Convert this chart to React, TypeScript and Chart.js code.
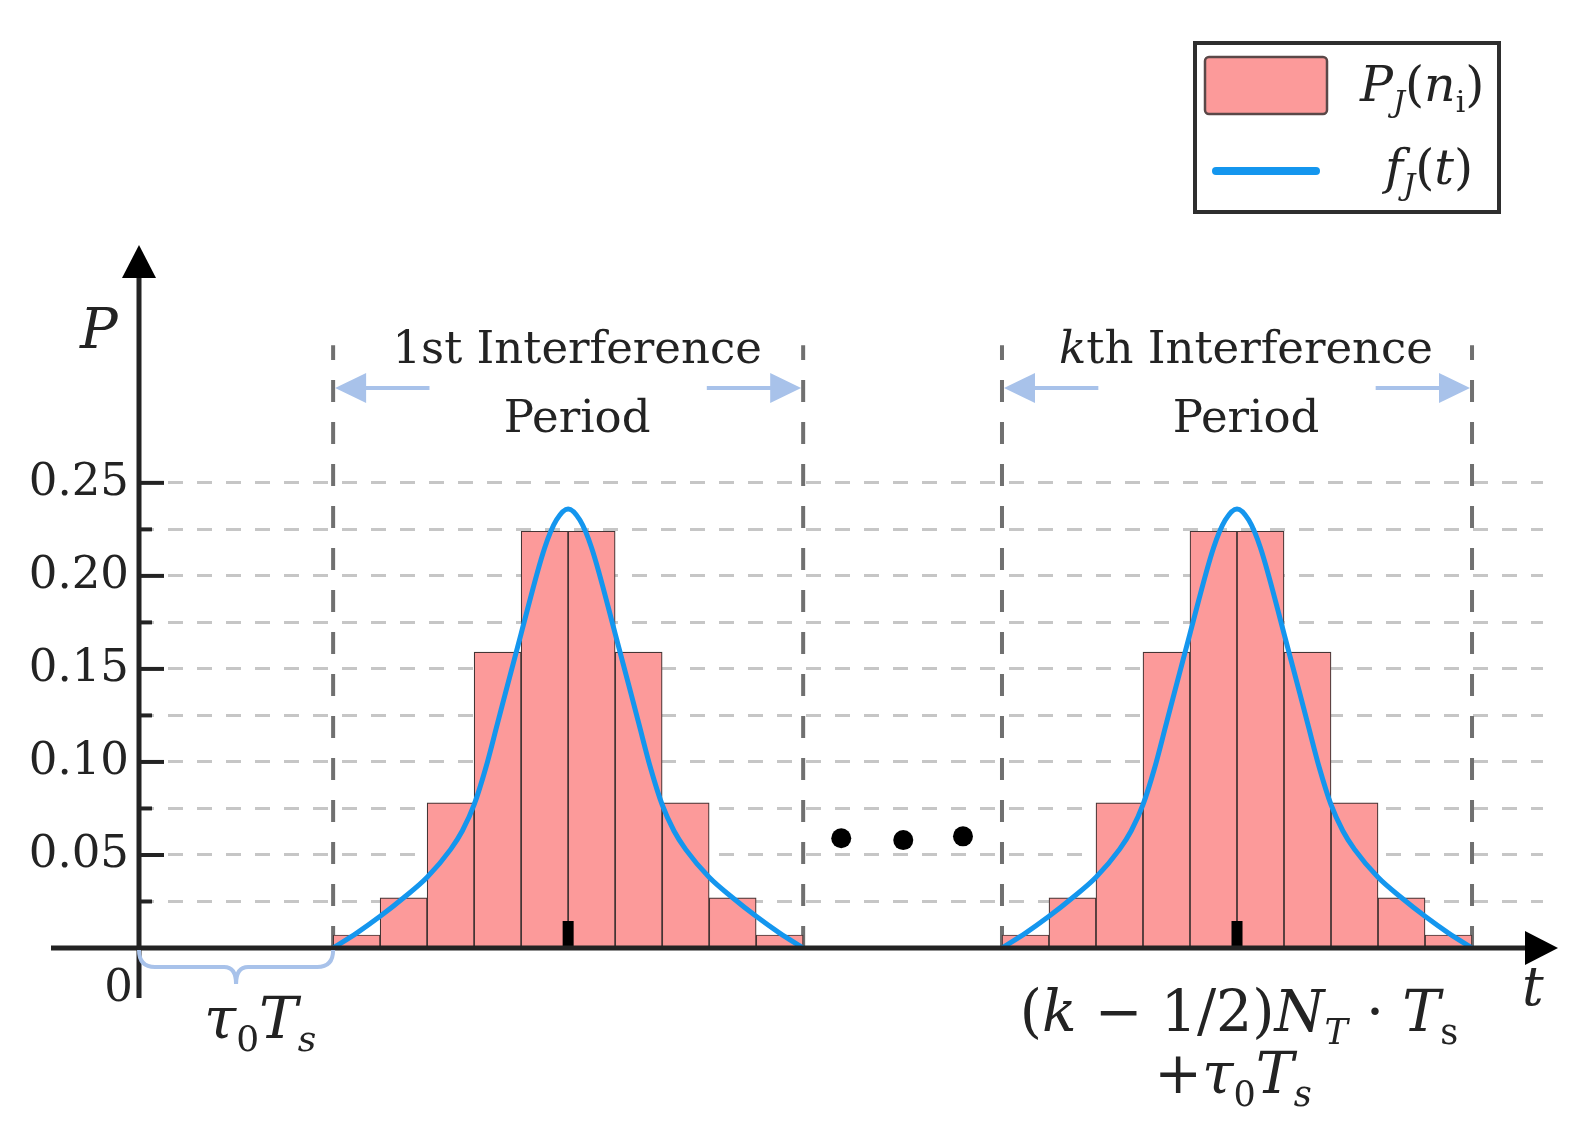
import { useEffect, useRef } from 'react'
import { Chart, ChartConfiguration, registerables } from 'chart.js'

Chart.register(...registerables)

// P_J(n_i): probability of each bin inside one interference period
const binProbs = [0.007, 0.027, 0.078, 0.159, 0.224, 0.224, 0.159, 0.078, 0.027, 0.007]
// where the 1st and the kth interference period start (units of T_s)
const periodStarts = [4.13, 18.36]
// f_J(t), as offsets from the start of a period
const curveOffsets = [0, 0.5, 1, 1.5, 2, 2.5, 2.75, 3, 3.25, 3.5, 4, 4.5, 4.75, 5, 5.25, 5.5, 6, 6.5, 6.75, 7, 7.25, 7.5, 8, 8.5, 9, 9.5, 10]
const curveValues = [0, 0.008, 0.017, 0.027, 0.038, 0.053, 0.063, 0.077, 0.097, 0.121, 0.169, 0.215, 0.23, 0.236, 0.23, 0.215, 0.169, 0.121, 0.097, 0.077, 0.063, 0.053, 0.038, 0.027, 0.017, 0.008, 0]
// the three dots between the periods
const dotTimes = [14.94, 16.26, 17.53]
const dotValues = [0.059, 0.058, 0.06]
// y axis
const yTickValues = [0.025, 0.05, 0.075, 0.1, 0.125, 0.15, 0.175, 0.2, 0.225, 0.25]
const yTickLabels = ['', '0.05', '', '0.10', '', '0.15', '', '0.20', '', '0.25']

const X_MAX = 29.87
const Y_MAX = 0.38
const PERIOD_LINE_TOP = 0.324

const SERIF = '"DejaVu Serif", serif'
const BAR_FILL = '#fc9a9a'
const CURVE = '#1496ee'
const LIGHT_BLUE = '#a8c2ea'
const INK = '#232323'

type Run = { t: string; it?: boolean; sub?: boolean }

function drawRuns(
  ctx: CanvasRenderingContext2D,
  runs: Run[],
  x: number,
  y: number,
  size: number,
  align: 'left' | 'center' = 'left',
) {
  const fontOf = (r: Run) => `${r.it ? 'italic ' : ''}${r.sub ? Math.round(size * 0.62) : size}px ${SERIF}`
  let w = 0
  for (const r of runs) {
    ctx.font = fontOf(r)
    w += ctx.measureText(r.t).width
  }
  let cx = align === 'center' ? x - w / 2 : x
  ctx.textAlign = 'left'
  ctx.textBaseline = 'alphabetic'
  ctx.fillStyle = INK
  for (const r of runs) {
    ctx.font = fontOf(r)
    ctx.fillText(r.t, cx, r.sub ? y + size * 0.22 : y)
    cx += ctx.measureText(r.t).width
  }
}

function arrowHead(ctx: CanvasRenderingContext2D, tipX: number, tipY: number, dir: 'left' | 'right' | 'up', len: number, half: number) {
  ctx.beginPath()
  if (dir === 'up') {
    ctx.moveTo(tipX, tipY)
    ctx.lineTo(tipX - half, tipY + len)
    ctx.lineTo(tipX + half, tipY + len)
  } else {
    const s = dir === 'right' ? -1 : 1
    ctx.moveTo(tipX, tipY)
    ctx.lineTo(tipX + s * len, tipY - half)
    ctx.lineTo(tipX + s * len, tipY + half)
  }
  ctx.closePath()
  ctx.fill()
}

const overlay = {
  id: 'overlay',
  beforeDatasetsDraw(chart: Chart) {
    const { ctx } = chart
    const xs = chart.scales.x
    const ys = chart.scales.y
    ctx.save()
    ctx.strokeStyle = '#707070'
    ctx.lineWidth = 4
    ctx.setLineDash([22, 20])
    for (const s of periodStarts) {
      for (const t of [s, s + binProbs.length]) {
        const px = xs.getPixelForValue(t)
        ctx.beginPath()
        ctx.moveTo(px, ys.getPixelForValue(0))
        ctx.lineTo(px, ys.getPixelForValue(PERIOD_LINE_TOP))
        ctx.stroke()
      }
    }
    ctx.restore()
  },
  afterDatasetsDraw(chart: Chart) {
    const { ctx } = chart
    const xs = chart.scales.x
    const ys = chart.scales.y
    const x0 = xs.getPixelForValue(0)
    const y0 = ys.getPixelForValue(0)
    ctx.save()

    // centre markers
    ctx.fillStyle = '#000'
    for (const s of periodStarts) {
      const cx = xs.getPixelForValue(s + binProbs.length / 2)
      ctx.fillRect(cx - 5.5, y0 - 27, 11, 27)
    }

    // axes
    ctx.strokeStyle = INK
    ctx.fillStyle = '#000'
    ctx.lineWidth = 5
    ctx.beginPath()
    ctx.moveTo(51, y0)
    ctx.lineTo(1530, y0)
    ctx.stroke()
    arrowHead(ctx, 1558, y0, 'right', 33, 17)
    ctx.beginPath()
    ctx.moveTo(x0, 998)
    ctx.lineTo(x0, 275)
    ctx.stroke()
    arrowHead(ctx, x0, 245, 'up', 33, 17)

    // y ticks (inside)
    ctx.lineWidth = 4
    yTickValues.forEach((v, i) => {
      const py = ys.getPixelForValue(v)
      ctx.beginPath()
      ctx.moveTo(x0, py)
      ctx.lineTo(x0 + (yTickLabels[i] ? 25 : 13), py)
      ctx.stroke()
    })

    // period arrows
    ctx.strokeStyle = LIGHT_BLUE
    ctx.fillStyle = LIGHT_BLUE
    ctx.lineWidth = 4
    const ay = ys.getPixelForValue(0.301)
    for (const s of periodStarts) {
      const l = xs.getPixelForValue(s) + 2
      const r = xs.getPixelForValue(s + binProbs.length) - 2
      ctx.beginPath()
      ctx.moveTo(l + 20, ay)
      ctx.lineTo(xs.getPixelForValue(s + 2.05), ay)
      ctx.moveTo(xs.getPixelForValue(s + binProbs.length - 2.05), ay)
      ctx.lineTo(r - 20, ay)
      ctx.stroke()
      arrowHead(ctx, l, ay, 'left', 31, 15)
      arrowHead(ctx, r, ay, 'right', 31, 15)
    }

    // brace for tau0 Ts
    const bx1 = xs.getPixelForValue(periodStarts[0])
    const bm = (x0 + bx1) / 2
    const by0 = y0 + 2
    const by1 = y0 + 19
    const by2 = y0 + 36
    ctx.lineWidth = 4
    ctx.beginPath()
    ctx.moveTo(x0, by0)
    ctx.quadraticCurveTo(x0, by1, x0 + 16, by1)
    ctx.lineTo(bm - 12, by1)
    ctx.quadraticCurveTo(bm, by1, bm, by2)
    ctx.quadraticCurveTo(bm, by1, bm + 12, by1)
    ctx.lineTo(bx1 - 16, by1)
    ctx.quadraticCurveTo(bx1, by1, bx1, by0)
    ctx.stroke()

    // titles
    const titleSize = 45
    periodStarts.forEach((s, k) => {
      const cx = xs.getPixelForValue(s + binProbs.length / 2) + 9
      const head: Run[] = k === 0 ? [{ t: '1st Interference' }] : [{ t: 'k', it: true }, { t: 'th Interference' }]
      drawRuns(ctx, head, cx, 363, titleSize, 'center')
      drawRuns(ctx, [{ t: 'Period' }], cx, 432, titleSize, 'center')
    })

    // axis labels
    drawRuns(ctx, [{ t: 'P', it: true }], 80, 348, 56)
    drawRuns(ctx, [{ t: 't', it: true }], 1522, 1005, 54)
    ctx.font = `45px ${SERIF}`
    ctx.textAlign = 'right'
    ctx.fillStyle = INK
    ctx.fillText('0', 133, 1001)

    drawRuns(ctx, [{ t: 'τ', it: true }, { t: '0', sub: true }, { t: 'T', it: true }, { t: 's', it: true, sub: true }], bm - 32, 1038, 58)
    const c2 = xs.getPixelForValue(periodStarts[1] + binProbs.length / 2)
    drawRuns(
      ctx,
      [
        { t: '(' },
        { t: 'k', it: true },
        { t: ' − 1/2)' },
        { t: 'N', it: true },
        { t: 'T', it: true, sub: true },
        { t: ' · ' },
        { t: 'T', it: true },
        { t: 's', sub: true },
      ],
      c2 + 2,
      1031,
      57,
      'center',
    )
    drawRuns(ctx, [{ t: '+' }, { t: 'τ', it: true }, { t: '0', sub: true }, { t: 'T', it: true }, { t: 's', it: true, sub: true }], c2 - 4, 1093, 57, 'center')

    // legend
    ctx.fillStyle = '#fff'
    ctx.fillRect(1195, 43, 304, 169)
    ctx.strokeStyle = '#2e2e2e'
    ctx.lineWidth = 4
    ctx.strokeRect(1195, 43, 304, 169)
    ctx.fillStyle = BAR_FILL
    ctx.strokeStyle = '#5a4848'
    ctx.lineWidth = 2.5
    ctx.beginPath()
    ctx.roundRect(1205, 57, 122, 57, 4)
    ctx.fill()
    ctx.stroke()
    ctx.strokeStyle = CURVE
    ctx.lineWidth = 8
    ctx.lineCap = 'round'
    ctx.beginPath()
    ctx.moveTo(1216, 171)
    ctx.lineTo(1316, 171)
    ctx.stroke()
    drawRuns(ctx, [{ t: 'P', it: true }, { t: 'J', it: true, sub: true }, { t: '(' }, { t: 'n', it: true }, { t: 'i', sub: true }, { t: ')' }], 1360, 101, 49)
    drawRuns(ctx, [{ t: 'f', it: true }, { t: 'J', it: true, sub: true }, { t: '(' }, { t: 't', it: true }, { t: ')' }], 1385, 184, 49)

    ctx.restore()
  },
}

export default function App() {
  const canvasRef = useRef<HTMLCanvasElement>(null)

  useEffect(() => {
    if (!canvasRef.current) return
    const ctx = canvasRef.current.getContext('2d')
    if (!ctx) return

    const barData = periodStarts.flatMap((s) => binProbs.map((p, i) => ({ x: s + i + 0.5, y: p })))
    const curves = periodStarts.map((s) => ({
      type: 'line' as const,
      data: curveOffsets.map((o, i) => ({ x: s + o, y: curveValues[i] })),
      borderColor: CURVE,
      borderWidth: 5,
      pointRadius: 0,
      cubicInterpolationMode: 'monotone' as const,
      fill: false,
      order: 0,
    }))

    const config: ChartConfiguration = {
      type: 'bar',
      data: {
        datasets: [
          ...curves,
          {
            type: 'scatter',
            data: dotTimes.map((t, i) => ({ x: t, y: dotValues[i] })),
            backgroundColor: '#000',
            borderWidth: 0,
            pointRadius: 10,
            order: 0,
          },
          {
            type: 'bar',
            data: barData,
            backgroundColor: BAR_FILL,
            borderColor: '#443535',
            borderWidth: 1.2,
            barPercentage: 1,
            categoryPercentage: 1,
            order: 1,
          },
        ] as any,
      },
      options: {
        animation: false,
        responsive: true,
        maintainAspectRatio: false,
        events: [],
        layout: { padding: { top: 241, right: 47, bottom: 187, left: 0 } },
        plugins: { legend: { display: false }, tooltip: { enabled: false } },
        scales: {
          x: { type: 'linear', min: 0, max: X_MAX, offset: false, display: false, ticks: { stepSize: 5 } },
          y: {
            type: 'linear',
            min: 0,
            max: Y_MAX,
            afterFit: (s: any) => {
              s.width = 139
            },
            afterBuildTicks: (s: any) => {
              s.ticks = yTickValues.map((v) => ({ value: v }))
            },
            ticks: {
              autoSkip: false,
              callback: (_v: any, i: number) => yTickLabels[i],
              font: { family: SERIF, size: 45 },
              color: INK,
              padding: 10,
            },
            grid: { color: '#c6c6c6', lineWidth: 3, drawTicks: false },
            border: { display: false, dash: [15, 14] },
          },
        },
      },
      plugins: [overlay],
    }

    const chart = new Chart(ctx, config)
    return () => {
      chart.destroy()
    }
  }, [])

  return (
    <div style={{ position: 'fixed', left: 0, top: 0, width: 1590, height: 1135, background: '#fff' }}>
      <canvas ref={canvasRef} />
    </div>
  )
}
